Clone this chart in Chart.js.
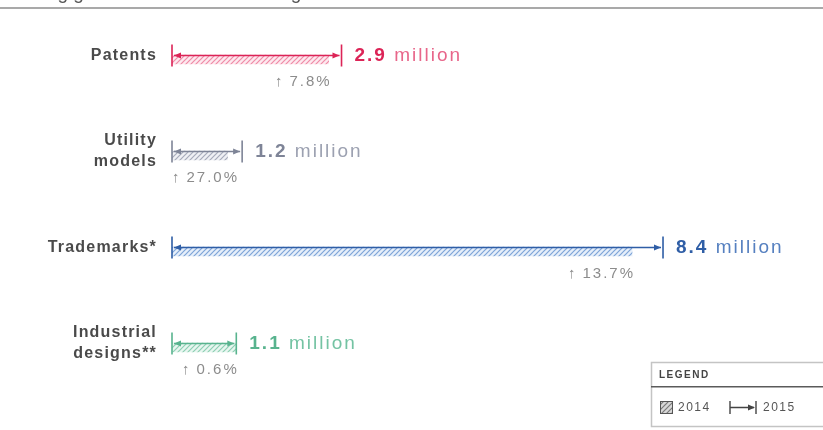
<!DOCTYPE html>
<html>
<head>
<meta charset="utf-8">
<script src="https://cdn.jsdelivr.net/npm/chart.js@4.4.1/dist/chart.umd.min.js"></script>
<style>
  html, body { margin: 0; padding: 0; background: #fff; }
</style>
</head>
<body>
<canvas id="ipChart" width="823" height="430"></canvas>
<script>
// data (millions of applications)
const categories = [["Patents"], ["Utility", "models"], ["Trademarks*"], ["Industrial", "designs**"]];
const values2014 = [2.68, 0.95, 7.87, 1.09];
const values2015 = [2.9, 1.2, 8.4, 1.1];
const valueLabels = ["2.9", "1.2", "8.4", "1.1"];
const growthLabels = ["7.8%", "27.0%", "13.7%", "0.6%"];

// styles
const mainColors = ["#dc2457", "#7e8497", "#2f5ea6", "#58b38e"];
const softColors = ["#e8668a", "#9ca1b1", "#5680c0", "#74c3a3"];
const hatchColors = ["#ef8aa6", "#a6abbb", "#7ea4d8", "#8ccfb3"];
const tintColors = ["#fde9ef", "#eff0f4", "#e6effa", "#e8f6f0"];
const FONT = "'Liberation Sans', Arial, sans-serif";

const canvas = document.getElementById("ipChart");
const ctx = canvas.getContext("2d");

function hatch(line, bg) {
  const c = document.createElement("canvas");
  c.width = 5; c.height = 5;
  const g = c.getContext("2d");
  g.fillStyle = bg;
  g.fillRect(0, 0, 5, 5);
  g.strokeStyle = line;
  g.lineWidth = 1.2;
  g.beginPath();
  g.moveTo(0, 5); g.lineTo(5, 0);
  g.moveTo(-1, 1); g.lineTo(1, -1);
  g.moveTo(4, 6); g.lineTo(6, 4);
  g.stroke();
  return ctx.createPattern(c, "repeat");
}

const patterns = hatchColors.map((c, i) => hatch(c, tintColors[i]));

function arrowHead(g, x, y, dir) {
  g.beginPath();
  g.moveTo(x, y);
  g.lineTo(x - dir * 7, y - 3);
  g.lineTo(x - dir * 7, y + 3);
  g.closePath();
  g.fill();
}

// draws category names, 2015 range markers, value and growth labels
const rangePlugin = {
  id: "rangeMarks",
  afterDatasetsDraw(chart) {
    const g = chart.ctx;
    const m15 = chart.getDatasetMeta(0);
    const m14 = chart.getDatasetMeta(1);
    const ys = chart.scales.y;
    m15.data.forEach((bar, i) => {
      const y = Math.round(ys.getPixelForValue(i)) + 0.5;
      const x0 = bar.base, x1 = bar.x;
      const col = mainColors[i];
      g.save();

      // category name
      g.font = "bold 16px " + FONT;
      g.letterSpacing = "1.2px";
      g.fillStyle = "#4a4a4a";
      g.textAlign = "right";
      g.textBaseline = "middle";
      const lines = categories[i];
      lines.forEach((t, k) => {
        g.fillText(t, 157, y + (k - (lines.length - 1) / 2) * 21);
      });

      g.strokeStyle = col;
      g.fillStyle = col;
      g.lineWidth = 1.6;
      g.beginPath();
      g.moveTo(x0, y - 11); g.lineTo(x0, y + 11);
      g.moveTo(x1, y - 11); g.lineTo(x1, y + 11);
      g.stroke();
      g.lineWidth = 1.3;
      g.beginPath();
      g.moveTo(x0 + 2, y); g.lineTo(x1 - 2, y);
      g.stroke();
      arrowHead(g, x0 + 2, y, -1);
      arrowHead(g, x1 - 2, y, 1);

      // value label
      g.textAlign = "left";
      g.letterSpacing = "2px";
      g.font = "bold 19px " + FONT;
      g.fillStyle = col;
      const tx = x1 + 13;
      g.fillText(valueLabels[i], tx, y);
      const w = g.measureText(valueLabels[i]).width;
      g.font = "19px " + FONT;
      g.fillStyle = softColors[i];
      g.fillText(" million", tx + w, y);

      // growth label under the 2014 bar end
      const b14 = m14.data[i];
      g.font = "15px " + FONT;
      g.letterSpacing = "2px";
      g.fillStyle = "#8c8c8c";
      const txt = "\u2191\u2009" + growthLabels[i];
      const tw = g.measureText(txt).width;
      const gx = Math.max(x0, b14.x + 3 - tw);
      g.fillText(txt, gx, y + 26);
      g.restore();
    });
  },
  afterDraw(chart) {
    const g = chart.ctx;
    g.save();
    // cut-off heading and rule at the top
    g.font = "19px " + FONT;
    g.fillStyle = "#555";
    g.textBaseline = "alphabetic";
    g.fillText("Strong growth in demand for IP rights", 12, -1);
    g.fillStyle = "#a9a9a9";
    g.fillRect(0, 7, 823, 2);

    // legend box
    g.strokeStyle = "#c4c4c4";
    g.lineWidth = 1.5;
    g.strokeRect(651.5, 362.5, 180, 64);
    g.fillStyle = "#5a5a5a";
    g.fillRect(651, 386, 172, 1.5);
    g.font = "bold 10px " + FONT;
    g.letterSpacing = "1.5px";
    g.fillStyle = "#444";
    g.textBaseline = "middle";
    g.fillText("LEGEND", 659, 375);

    g.fillStyle = hatch("#7a7a7a", "#d8d8d8");
    g.fillRect(660, 401, 13, 13);
    g.strokeStyle = "#555";
    g.lineWidth = 1;
    g.strokeRect(660.5, 401.5, 12, 12);
    g.font = "12px " + FONT;
    g.fillStyle = "#555";
    g.fillText("2014", 678, 408);

    g.strokeStyle = "#444";
    g.fillStyle = "#444";
    g.lineWidth = 1.4;
    g.beginPath();
    g.moveTo(730, 401); g.lineTo(730, 414);
    g.moveTo(756, 401); g.lineTo(756, 414);
    g.moveTo(730, 407.5); g.lineTo(754, 407.5);
    g.stroke();
    arrowHead(g, 755, 407.5, 1);
    g.fillStyle = "#555";
    g.fillText("2015", 763, 408);
    g.restore();
  }
};

const ipChart = new Chart(ctx, {
  type: "bar",
  data: {
    labels: categories,
    datasets: [
      {
        label: "2015",
        data: values2015,
        backgroundColor: "rgba(0,0,0,0)",
        barThickness: 9,
      },
      {
        label: "2014",
        data: values2014,
        backgroundColor: patterns,
        barThickness: 9,
      },
    ],
  },
  options: {
    indexAxis: "y",
    responsive: false,
    animation: false,
    layout: { padding: { top: 7, bottom: 39, left: 172, right: 8 } },
    plugins: {
      legend: { display: false },
      tooltip: { enabled: false },
    },
    scales: {
      x: { display: false, min: 0, max: 11 },
      y: { display: false },
    },
  },
  plugins: [rangePlugin],
});
</script>
</body>
</html>
